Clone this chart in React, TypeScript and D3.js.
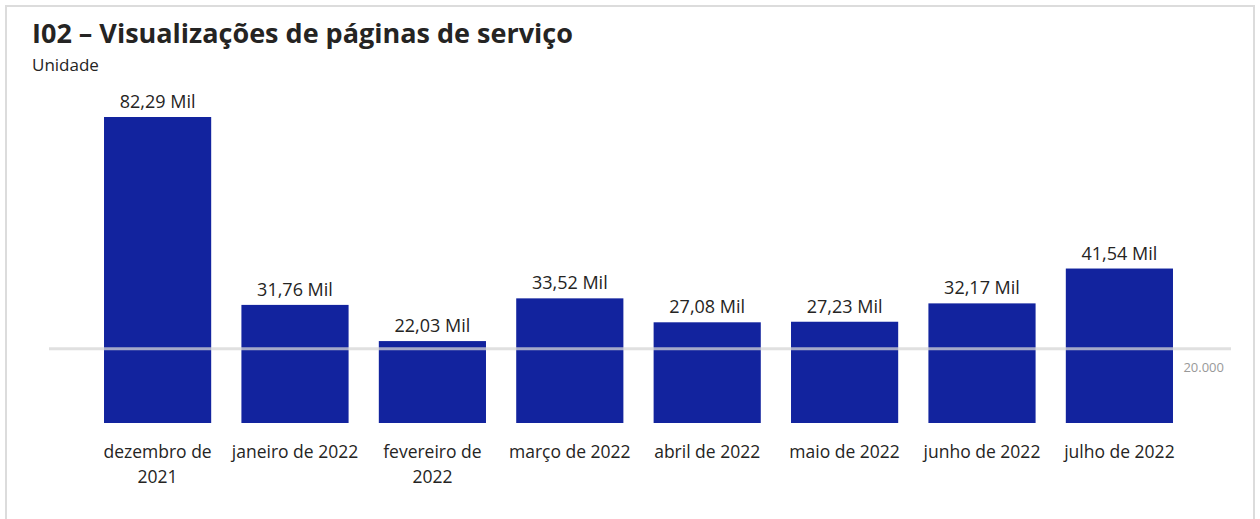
import React from "react";
import * as d3 from "d3";

const categories = [
  ["dezembro de", "2021"],
  ["janeiro de 2022"],
  ["fevereiro de", "2022"],
  ["março de 2022"],
  ["abril de 2022"],
  ["maio de 2022"],
  ["junho de 2022"],
  ["julho de 2022"],
];
const values = [82290, 31760, 22030, 33520, 27080, 27230, 32170, 41540];
const labels = ["82,29 Mil", "31,76 Mil", "22,03 Mil", "33,52 Mil", "27,08 Mil", "27,23 Mil", "32,17 Mil", "41,54 Mil"];
const refValue = 20000;
const refLabel = "20.000";

const W = 1260;
const H = 519;
const FONT = "'Open Sans', 'Segoe UI', sans-serif";

export default function App() {
  const x = d3
    .scaleBand<number>()
    .domain(values.map((_, i) => i))
    .range([88.9, 1188.1])
    .paddingInner(0.22)
    .paddingOuter(0.11);
  const y = d3.scaleLinear().domain([0, 82290]).range([423, 117]);
  const refY = y(refValue);

  return (
    <svg
      width={W}
      height={H}
      style={{ position: "absolute", left: 0, top: 0, background: "#fff" }}
      fontFamily={FONT}
    >
      <rect x={6} y={6} width={1248} height={530} fill="#fff" stroke="#dcdcdc" strokeWidth={2} />
      <text x={32} y={43} fontSize={27} fontWeight={700} fill="#252423">
        I02 – Visualizações de páginas de serviço
      </text>
      <text x={32} y={71} fontSize={17} fill="#252423">
        Unidade
      </text>
      {values.map((v, i) => (
        <rect key={"b" + i} x={x(i)} y={y(v)} width={x.bandwidth()} height={y(0) - y(v)} fill="#12239E" />
      ))}
      <line x1={49} x2={1231} y1={refY} y2={refY} stroke="#d6d6d6" strokeOpacity={0.75} strokeWidth={3} />
      <text x={1224} y={372} textAnchor="end" fontSize={13} fill="#999999">
        {refLabel}
      </text>
      {values.map((v, i) => (
        <text
          key={"l" + i}
          x={(x(i) as number) + x.bandwidth() / 2}
          y={y(v) - 9}
          textAnchor="middle"
          fontSize={18}
          fill="#252423"
        >
          {labels[i]}
        </text>
      ))}
      {categories.map((lines, i) => (
        <text
          key={"c" + i}
          x={(x(i) as number) + x.bandwidth() / 2}
          y={458}
          textAnchor="middle"
          fontSize={17.5}
          fill="#252423"
        >
          {lines.map((t, j) => (
            <tspan key={j} x={(x(i) as number) + x.bandwidth() / 2} dy={j === 0 ? 0 : 25}>
              {t}
            </tspan>
          ))}
        </text>
      ))}
    </svg>
  );
}
